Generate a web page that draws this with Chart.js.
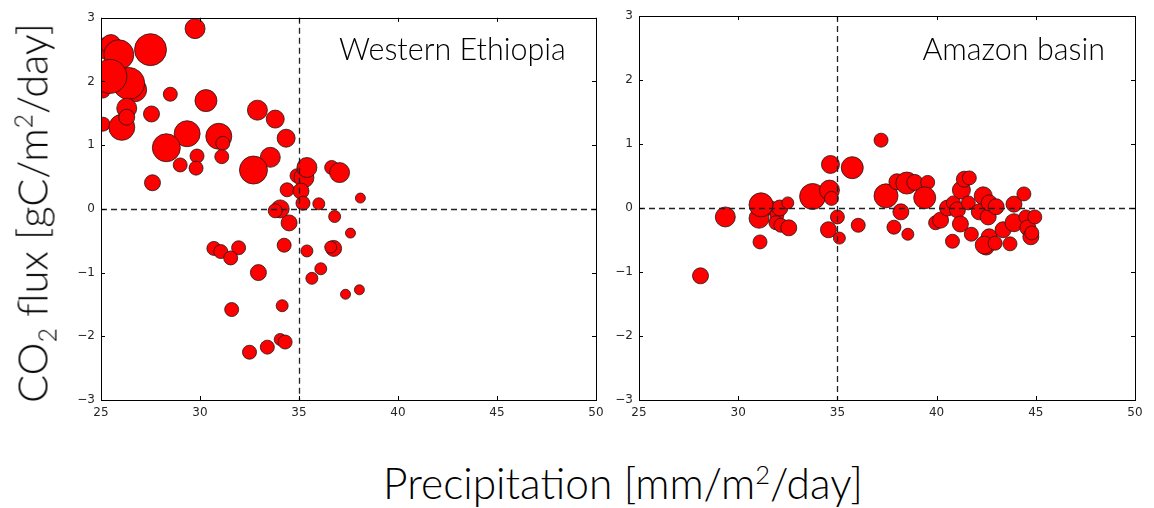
<!DOCTYPE html>
<html>
<head>
<meta charset="utf-8">
<script src="https://cdn.jsdelivr.net/npm/chart.js@4.4.1/dist/chart.umd.min.js"></script>
<style>
  body { margin: 0; background: #fff; width: 1154px; height: 508px; overflow: hidden; position: relative; }
  .wrap { position: absolute; top: 0; height: 420px; }
  #wrapL { left: 50px; width: 570px; }
  #wrapR { left: 588px; width: 566px; }
  .lbl { position: absolute; color: #000; white-space: nowrap; font-family: Lato, 'Open Sans', sans-serif; font-weight: 300; line-height: 1; }
  .lbl sup, .lbl sub { font-size: 0.6em; }
</style>
</head>
<body>
<div class="wrap" id="wrapL"><canvas id="chart-we"></canvas></div>
<div class="wrap" id="wrapR"><canvas id="chart-am"></canvas></div>

<div class="lbl" id="ytitle" style="font-size:41.5px;left:35px;top:213px;transform:translate(-50%,-50%) rotate(-90deg);">CO<sub>2</sub> flux [gC/m<sup>2</sup>/day]</div>
<div class="lbl" id="xtitle" style="font-size:42.5px;left:623px;top:483px;transform:translate(-50%,-50%);">Precipitation [mm/m<sup>2</sup>/day]</div>
<div class="lbl" style="font-size:30.5px;left:339px;top:33px;">Western Ethiopia</div>
<div class="lbl" style="font-size:30.5px;right:49px;top:33px;">Amazon basin</div>

<script>
// axis ranges and reference lines
const X_MIN = 25, X_MAX = 50, X_STEP = 5;
const Y_MIN = -3, Y_MAX = 3, Y_STEP = 1;
const REF_X = 35, REF_Y = 0;

// Western Ethiopia: precipitation, CO2 flux, bubble radius (px)
const weX = [29.75, 27.5, 25.3, 25.5, 25.9, 25.1, 26.7, 26.4, 25.45, 28.5,
             30.3, 26.3, 25.1, 26.05, 26.3, 27.55, 32.9, 33.8, 34.35, 29.35,
             30.95, 31.15, 28.3, 29.85, 31.1, 29.0, 29.8, 33.55, 32.7, 27.6,
             34.9, 35.25, 35.4, 34.4, 35.1, 35.2, 36.0, 36.65, 37.05, 38.1,
             34.05, 33.8, 34.5, 36.8, 37.6, 30.7, 31.05, 31.95, 31.55, 34.25,
             35.4, 36.75, 36.6, 32.95, 36.1, 35.65, 37.35, 38.05, 31.6, 34.15,
             32.5, 33.4, 34.05, 34.3];
const weY = [2.83, 2.50, 2.52, 2.58, 2.42, 1.85, 1.87, 1.97, 2.08, 1.80,
             1.70, 1.58, 1.33, 1.28, 1.44, 1.49, 1.55, 1.41, 1.11, 1.18,
             1.14, 1.03, 0.96, 0.83, 0.82, 0.69, 0.64, 0.81, 0.61, 0.41,
             0.52, 0.49, 0.65, 0.30, 0.28, 0.09, 0.08, 0.65, 0.57, 0.17,
             0.00, -0.03, -0.22, -0.12, -0.38, -0.62, -0.67, -0.61, -0.77, -0.57,
             -0.66, -0.62, -0.60, -1.00, -0.94, -1.09, -1.34, -1.27, -1.58, -1.52,
             -2.25, -2.17, -2.05, -2.09];
const weR = [10, 16, 11, 10, 15, 7, 12, 16, 17, 7,
             11, 10, 7, 13, 8, 8, 10, 9, 9, 13,
             13, 7, 14, 7, 7, 7, 7, 10, 14, 8,
             7, 10, 10, 7, 8, 7, 6, 7, 10, 5,
             9, 7, 8, 6, 5, 7, 7, 7, 7, 7,
             6, 8, 6, 8, 6, 6, 5, 5, 7, 6,
             7, 7, 6, 7];

// Amazon basin
const amX = [28.1, 29.35, 31.1, 31.05, 31.65, 31.95, 32.1, 31.9, 32.15, 32.5,
             32.55, 31.15, 33.75, 34.65, 34.6, 34.7, 35.0, 34.55, 35.1, 35.75,
             36.05, 37.2, 37.45, 38.0, 38.5, 38.9, 39.55, 39.4, 38.2, 37.85,
             38.55, 39.95, 40.2, 40.55, 40.85, 41.05, 40.8, 41.2, 41.25, 41.4,
             41.65, 41.6, 41.75, 42.35, 42.15, 42.6, 42.65, 43.0, 42.65, 42.5,
             42.4, 42.95, 43.35, 43.7, 43.9, 43.9, 44.4, 44.5, 44.6, 44.95,
             44.75, 44.8];
const amY = [-1.06, -0.14, -0.53, -0.16, 0.00, -0.11, 0.00, -0.23, -0.27, 0.08,
             -0.31, 0.05, 0.18, 0.68, 0.28, 0.15, -0.14, -0.34, -0.47, 0.63,
             -0.27, 1.06, 0.19, 0.41, 0.39, 0.40, 0.40, 0.16, -0.06, -0.30,
             -0.41, -0.23, -0.19, 0.00, 0.08, -0.03, -0.52, -0.25, 0.28, 0.45,
             0.47, 0.08, -0.41, 0.19, -0.06, -0.14, 0.08, 0.02, -0.45, -0.61,
             -0.58, -0.55, -0.34, -0.56, -0.23, 0.06, 0.22, -0.14, -0.31, -0.14,
             -0.45, -0.39];
const amR = [8, 10, 7, 10, 7, 7, 8, 7, 7, 6,
             8, 12, 13, 9, 10, 7, 7, 8, 6, 11,
             7, 7, 12, 8, 11, 8, 7, 11, 8, 7,
             6, 7, 8, 8, 7, 8, 7, 8, 9, 8,
             7, 7, 7, 9, 8, 8, 8, 8, 8, 8,
             9, 7, 8, 7, 9, 8, 7, 7, 8, 7,
             8, 7];

// dashed reference lines, inward ticks on all four sides, and the box
const framePlugin = {
  id: 'frame',
  afterDatasetsDraw(chart) {
    const { ctx, chartArea: a, scales: { x, y } } = chart;
    ctx.save();
    ctx.strokeStyle = '#222';
    ctx.lineWidth = 1.3;
    ctx.setLineDash([6, 4]);
    const px = Math.round(x.getPixelForValue(REF_X)) + 0.5;
    const py = Math.round(y.getPixelForValue(REF_Y)) + 0.5;
    ctx.beginPath();
    ctx.moveTo(px, a.top); ctx.lineTo(px, a.bottom);
    ctx.moveTo(a.left, py); ctx.lineTo(a.right, py);
    ctx.stroke();
    ctx.setLineDash([]);

    ctx.strokeStyle = '#000';
    ctx.lineWidth = 1;
    const L = 4;
    ctx.beginPath();
    x.ticks.forEach(t => {
      const p = Math.round(x.getPixelForValue(t.value)) + 0.5;
      ctx.moveTo(p, a.bottom); ctx.lineTo(p, a.bottom - L);
      ctx.moveTo(p, a.top); ctx.lineTo(p, a.top + L);
    });
    y.ticks.forEach(t => {
      const p = Math.round(y.getPixelForValue(t.value)) + 0.5;
      ctx.moveTo(a.left, p); ctx.lineTo(a.left + L, p);
      ctx.moveTo(a.right, p); ctx.lineTo(a.right - L, p);
    });
    ctx.stroke();
    ctx.strokeRect(Math.round(a.left) + 0.5, Math.round(a.top) + 0.5,
                   Math.round(a.right - a.left), Math.round(a.bottom - a.top));
    ctx.restore();
  }
};

const minusSign = v => String(v).replace('-', '\u2212');

function makePanel(id, xs, ys, rs, rightPad) {
  const ctx = document.getElementById(id);
  const points = xs.map((v, i) => ({ x: v, y: ys[i], r: rs[i] }));
  const tickFont = { family: "'DejaVu Sans', sans-serif", size: 12 };
  return new Chart(ctx, {
    type: 'bubble',
    data: {
      datasets: [{
        data: points,
        backgroundColor: '#ff0000',
        borderColor: '#1a1a1a',
        borderWidth: 0.8,
        clip: 0
      }]
    },
    options: {
      responsive: true,
      maintainAspectRatio: false,
      animation: false,
      events: [],
      layout: { padding: { top: 16, right: rightPad, left: 0, bottom: 0 } },
      plugins: { legend: { display: false }, tooltip: { enabled: false } },
      scales: {
        x: {
          type: 'linear', min: X_MIN, max: X_MAX,
          grid: { display: false, drawTicks: false }, border: { display: false },
          ticks: { stepSize: X_STEP, color: '#262626', font: tickFont, padding: 6, maxRotation: 0, callback: minusSign },
          afterFit: s => { s.height = 20; }
        },
        y: {
          type: 'linear', min: Y_MIN, max: Y_MAX,
          grid: { display: false, drawTicks: false }, border: { display: false },
          ticks: { stepSize: Y_STEP, color: '#262626', font: tickFont, padding: 6, callback: minusSign },
          afterFit: s => { s.width = 51; }
        }
      }
    },
    plugins: [framePlugin]
  });
}

makePanel('chart-we', weX, weY, weR, 24);
makePanel('chart-am', amX, amY, amR, 19);
</script>
</body>
</html>
